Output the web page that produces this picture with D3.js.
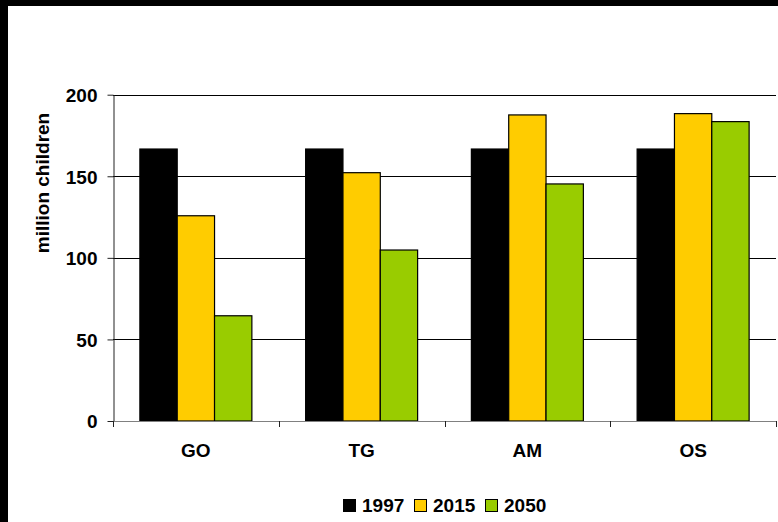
<!DOCTYPE html>
<html>
<head>
<meta charset="utf-8">
<script src="https://cdn.jsdelivr.net/npm/d3@7"></script>
<style>
  html, body { margin: 0; padding: 0; background: #fff; }
  svg { display: block; }
  text { font-family: "Liberation Sans", Arial, sans-serif; font-weight: bold; fill: #000; }
</style>
</head>
<body>
<svg id="chart" width="778" height="522"></svg>
<script>
// Children population by scenario (millions)
const categories = ["GO", "TG", "AM", "OS"];
const seriesNames = ["1997", "2015", "2050"];
const values1997 = [166.7, 166.7, 166.7, 166.7];
const values2015 = [125.8, 152.2, 187.6, 188.4];
const values2050 = [64.5, 104.8, 145.3, 183.5];
const seriesColors = ["#000000", "#FFCC00", "#99CC00"];
const yTicks = [0, 50, 100, 150, 200];
const yTitle = "million children";

const seriesValues = [values1997, values2015, values2050];

const svg = d3.select("#chart");
const W = 778, H = 522;

// Frame bands along the top and left edges
svg.append("rect").attr("x", 0).attr("y", 0).attr("width", W).attr("height", H).attr("fill", "#fff");
svg.append("rect").attr("x", 0).attr("y", 0).attr("width", W).attr("height", 6).attr("fill", "#000");
svg.append("rect").attr("x", 0).attr("y", 0).attr("width", 8).attr("height", H).attr("fill", "#000");

const plot = { left: 113, right: 776, top: 94.7, bottom: 421 };

const x = d3.scaleBand().domain(categories).range([plot.left, plot.right]).padding(0);
const y = d3.scaleLinear().domain([0, 200]).range([plot.bottom, plot.top]);

// Bars within each category: gap of ~1.44 bar widths shared on both sides
const gapRatio = 1.44;
const barW = x.bandwidth() / (seriesNames.length + gapRatio);
const x1 = d3.scaleBand().domain(seriesNames)
  .range([barW * gapRatio / 2, barW * gapRatio / 2 + barW * seriesNames.length])
  .padding(0);

// Horizontal gridlines
svg.append("g")
  .selectAll("line")
  .data(yTicks.filter(t => t > 0))
  .join("line")
  .attr("x1", plot.left).attr("x2", plot.right)
  .attr("y1", d => Math.round(y(d)) + 0.5).attr("y2", d => Math.round(y(d)) + 0.5)
  .attr("stroke", "#000").attr("stroke-width", 1);

// Bars
const groups = svg.append("g")
  .selectAll("g")
  .data(categories)
  .join("g")
  .attr("transform", d => `translate(${x(d)},0)`);

groups.selectAll("rect")
  .data((c, i) => seriesNames.map((s, k) => ({ s, k, v: seriesValues[k][i] })))
  .join("rect")
  .attr("x", d => x1(d.s))
  .attr("y", d => y(d.v))
  .attr("width", x1.bandwidth())
  .attr("height", d => y(0) - y(d.v))
  .attr("fill", d => seriesColors[d.k])
  .attr("stroke", "#000")
  .attr("stroke-width", 1.2);

// Y axis
const yAxis = svg.append("g")
  .attr("transform", `translate(${plot.left + 0.5},0)`)
  .call(d3.axisLeft(y).tickValues(yTicks).tickSize(6).tickPadding(10).tickSizeOuter(0));
yAxis.select(".domain").attr("stroke", "#222");
yAxis.selectAll(".tick line").attr("stroke", "#222");
yAxis.selectAll(".tick text")
  .attr("font-size", 19)
  .attr("font-family", "'Liberation Sans', Arial, sans-serif")
  .attr("font-weight", "bold")
  .attr("fill", "#000")
  .attr("dy", "0.36em");

// X axis with ticks at category boundaries
const xAxisG = svg.append("g");
xAxisG.append("line")
  .attr("x1", plot.left).attr("x2", plot.right)
  .attr("y1", plot.bottom + 0.5).attr("y2", plot.bottom + 0.5)
  .attr("stroke", "#808080").attr("stroke-width", 1);
const boundaries = categories.map(c => x(c)).concat([x(categories[categories.length - 1]) + x.bandwidth()]);
xAxisG.selectAll("line.tk")
  .data(boundaries)
  .join("line")
  .attr("class", "tk")
  .attr("x1", d => Math.round(d) + 0.5).attr("x2", d => Math.round(d) + 0.5)
  .attr("y1", plot.bottom).attr("y2", plot.bottom + 6)
  .attr("stroke", "#222");
xAxisG.selectAll("text")
  .data(categories)
  .join("text")
  .attr("x", d => x(d) + x.bandwidth() / 2)
  .attr("y", 456.5)
  .attr("text-anchor", "middle")
  .attr("font-size", 19)
  .text(d => d);

// Y axis title
svg.append("text")
  .attr("transform", "translate(49,183) rotate(-90)")
  .attr("text-anchor", "middle")
  .attr("font-size", 19)
  .text(yTitle);

// Legend
const legendX = [343, 414, 485];
const legend = svg.append("g")
  .selectAll("g")
  .data(seriesNames)
  .join("g")
  .attr("transform", (d, i) => `translate(${legendX[i]},0)`);
legend.append("rect")
  .attr("x", 0.5).attr("y", 499.5)
  .attr("width", 12).attr("height", 12)
  .attr("fill", (d, i) => seriesColors[i])
  .attr("stroke", "#000").attr("stroke-width", 1);
legend.append("text")
  .attr("x", 19).attr("y", 511.5)
  .attr("font-size", 19)
  .text(d => d);
</script>
</body>
</html>
